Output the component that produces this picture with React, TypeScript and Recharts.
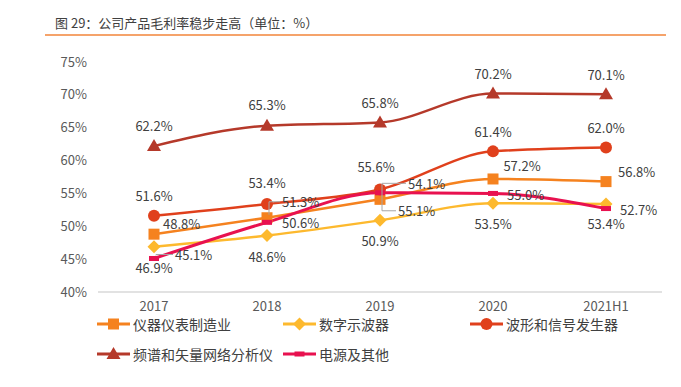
import { LineChart, Line, XAxis, YAxis } from 'recharts'

const years = ['2017', '2018', '2019', '2020', '2021H1']
const instrumentMfg = [48.8, 51.3, 54.1, 57.2, 56.8]
const oscilloscope = [46.9, 48.6, 50.9, 53.5, 53.4]
const waveformGen = [51.6, 53.4, 55.6, 61.4, 62.0]
const spectrumAnalyzer = [62.2, 65.3, 65.8, 70.2, 70.1]
const powerOther = [45.1, 50.6, 55.1, 55.0, 52.7]
const yTicks = [40, 45, 50, 55, 60, 65, 70, 75]

const FONT = '"Noto Sans CJK SC", "Noto Sans", sans-serif'

type Shape = 'square' | 'diamond' | 'circle' | 'triangle' | 'dash'
// label placement per point: [dx, dy, anchor, leader]
type Place = [number, number, 'start' | 'middle', boolean?]

const series: { key: string; name: string; color: string; shape: Shape; width: number; places: Place[] }[] = [
  {
    key: 'a', name: '仪器仪表制造业', color: '#F5821F', shape: 'square', width: 2.5,
    places: [[9, -11, 'start'], [15, -16, 'start', true], [28, -16, 'start', true], [29, -13, 'middle'], [12, -10, 'start']],
  },
  {
    key: 'b', name: '数字示波器', color: '#FDB92E', shape: 'diamond', width: 2.5,
    places: [[0, 21, 'middle'], [0, 21, 'middle'], [0, 20, 'middle'], [0, 20, 'middle'], [0, 20, 'middle']],
  },
  {
    key: 'c', name: '波形和信号发生器', color: '#E0401C', shape: 'circle', width: 2.5,
    places: [[0, -20, 'middle'], [0, -21, 'middle'], [-4, -23, 'middle'], [0, -20, 'middle'], [0, -20, 'middle']],
  },
  {
    key: 'd', name: '频谱和矢量网络分析仪', color: '#B5392A', shape: 'triangle', width: 2.5,
    places: [[0, -21, 'middle'], [0, -21, 'middle'], [0, -20, 'middle'], [0, -20, 'middle'], [0, -20, 'middle']],
  },
  {
    key: 'e', name: '电源及其他', color: '#E8114F', shape: 'dash', width: 3,
    places: [[21, -4, 'start', true], [15, 0, 'start'], [18, 18, 'start', true], [14, 1, 'start'], [14, 1, 'start']],
  },
]

const seriesValues: Record<string, number[]> = {
  a: instrumentMfg,
  b: oscilloscope,
  c: waveformGen,
  d: spectrumAnalyzer,
  e: powerOther,
}

const data = years.map((year, i) => {
  const row: Record<string, string | number> = { year }
  for (const s of series) row[s.key] = seriesValues[s.key][i]
  return row
})

function Marker({ cx, cy, shape, color }: { cx: number; cy: number; shape: Shape; color: string }) {
  if (shape === 'square') return <rect x={cx - 5.5} y={cy - 5.5} width={11} height={11} fill={color} />
  if (shape === 'diamond')
    return <polygon points={`${cx},${cy - 6.5} ${cx + 6.5},${cy} ${cx},${cy + 6.5} ${cx - 6.5},${cy}`} fill={color} />
  if (shape === 'circle') return <circle cx={cx} cy={cy} r={6} fill={color} />
  if (shape === 'triangle')
    return <polygon points={`${cx},${cy - 7} ${cx + 7},${cy + 5} ${cx - 7},${cy + 5}`} fill={color} />
  return <rect x={cx - 5} y={cy - 2.5} width={10} height={5} fill={color} />
}

function makeDot(shape: Shape, color: string) {
  return (props: any) => {
    if (props.cx == null || props.cy == null) return <g key={props.index} />
    return <Marker key={props.index} cx={props.cx} cy={props.cy} shape={shape} color={color} />
  }
}

function makeLabel(places: Place[]) {
  return (props: any) => {
    const { x, y, value, index } = props
    const [dx, dy, anchor, leader] = places[index]
    const tx = x + dx
    const ty = y + dy
    return (
      <g key={index}>
        {leader && (
          <polyline
            points={`${x + 2},${y + (dy < 0 ? -3 : 3)} ${x + 2},${ty} ${tx - 2},${ty}`}
            fill="none"
            stroke="#A6A6A6"
            strokeWidth={1}
          />
        )}
        <text x={tx} y={ty} textAnchor={anchor} dominantBaseline="central" fontSize={13} fill="#404040" fontFamily={FONT}>
          {`${Number(value).toFixed(1)}%`}
        </text>
      </g>
    )
  }
}

function LegendIcon({ shape, color }: { shape: Shape; color: string }) {
  return (
    <svg width={33} height={14} style={{ display: 'block' }}>
      <line x1={0} y1={7} x2={33} y2={7} stroke={color} strokeWidth={3} />
      <Marker cx={16.5} cy={7} shape={shape} color={color} />
    </svg>
  )
}

const legendSpots = [
  { left: 97, top: 324 },
  { left: 283, top: 324 },
  { left: 470, top: 324 },
  { left: 97, top: 354 },
  { left: 283, top: 354 },
]

export default function App() {
  return (
    <div style={{ position: 'absolute', left: 0, top: 0, width: 681, height: 387, background: '#fff', fontFamily: FONT }}>
      <div style={{ position: 'absolute', left: 55, top: 14, fontSize: 13, color: '#404040', lineHeight: '18px', whiteSpace: 'nowrap' }}>
        图 29：公司产品毛利率稳步走高（单位：%）
      </div>
      <div style={{ position: 'absolute', left: 45, top: 34, width: 621, height: 1.5, background: '#F5A36B' }} />
      <LineChart width={681} height={387} data={data} margin={{ top: 62, right: 19, left: 0, bottom: 65 }}>
        <XAxis
          dataKey="year"
          height={30}
          padding={{ left: 56, right: 56 }}
          tickLine={false}
          tickSize={0}
          tickMargin={10}
          axisLine={{ stroke: '#D9D9D9', strokeWidth: 1.5 }}
          tick={{ fontSize: 13, fill: '#595959', fontFamily: FONT }}
        />
        <YAxis
          width={98}
          domain={[40, 75]}
          ticks={yTicks}
          tickFormatter={(v) => `${v}%`}
          axisLine={false}
          tickLine={false}
          tickSize={0}
          tickMargin={11}
          tick={{ fontSize: 13, fill: '#595959', fontFamily: FONT }}
        />
        {series.map((s) => (
          <Line
            key={s.key}
            dataKey={s.key}
            name={s.name}
            type="monotone"
            stroke={s.color}
            strokeWidth={s.width}
            dot={makeDot(s.shape, s.color)}
            activeDot={false}
            label={makeLabel(s.places)}
            isAnimationActive={false}
          />
        ))}
      </LineChart>
      {series.map((s, i) => (
        <div
          key={s.key}
          style={{
            position: 'absolute',
            left: legendSpots[i].left,
            top: legendSpots[i].top - 10,
            height: 20,
            display: 'flex',
            alignItems: 'center',
            gap: 3,
            fontSize: 14,
            color: '#404040',
            whiteSpace: 'nowrap',
          }}
        >
          <LegendIcon shape={s.shape} color={s.color} />
          <span>{s.name}</span>
        </div>
      ))}
    </div>
  )
}
